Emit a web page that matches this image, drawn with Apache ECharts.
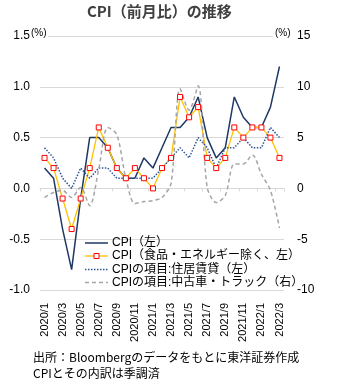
<!DOCTYPE html>
<html><head><meta charset="utf-8">
<script src="https://cdn.jsdelivr.net/npm/echarts@6/dist/echarts.min.js"></script>
<style>html,body{margin:0;padding:0;background:#fff}#c{width:357px;height:380px}</style>
</head><body><div id="c"></div>
<script>
const categories = ['2020/1','2020/2','2020/3','2020/4','2020/5','2020/6','2020/7','2020/8','2020/9','2020/10','2020/11','2020/12','2021/1','2021/2','2021/3','2021/4','2021/5','2021/6','2021/7','2021/8','2021/9','2021/10','2021/11','2021/12','2022/1','2022/2','2022/3'];
const cpi  = [0.2,0.1,-0.4,-0.8,-0.1,0.5,0.5,0.4,0.2,0.1,0.1,0.3,0.2,0.4,0.6,0.6,0.7,0.9,0.5,0.3,0.4,0.9,0.7,0.6,0.6,0.8,1.2];
const core = [0.3,0.2,-0.1,-0.4,-0.1,0.2,0.6,0.4,0.2,0.1,0.2,0.1,0.0,0.2,0.3,0.9,0.7,0.8,0.3,0.2,0.3,0.6,0.5,0.6,0.6,0.5,0.3];
const rent = [0.4,0.3,0.1,0.0,0.2,0.1,0.2,0.2,0.1,0.1,0.1,0.1,0.1,0.2,0.3,0.4,0.3,0.5,0.4,0.2,0.4,0.4,0.5,0.4,0.4,0.6,0.5];
const usedCars = [-0.9,-0.4,-0.2,-0.9,0.1,-1.7,1.9,6.0,5.3,1.0,-1.5,-1.3,-1.2,-0.9,0.5,9.8,7.7,10.1,0.1,-1.4,-0.7,2.4,2.4,3.3,1.4,-0.2,-3.9];
const seriesNames = ['CPI（左）','CPI（食品・エネルギー除く、左）','CPIの項目:住居賃貸（左）','CPIの項目:中古車・トラック（右）'];
const titleText = 'CPI（前月比）の推移';
const noteLines = ['出所：Bloombergのデータをもとに東洋証券作成','CPIとその内訳は季調済'];

const FONT = '"Liberation Sans", "Noto Sans CJK JP", sans-serif';
const styles = [
  {color:'#1f3864', dash:null, width:1.5},
  {color:'#ffc000', dash:null, width:1.3},
  {color:'#2f5597', dash:[1.5,1.5], width:1.5},
  {color:'#a6a6a6', dash:[4,3], width:1.5}
];

// custom legend (graphic)
const legendGraphics = [];
const rowY = [243, 256, 269.5, 282.5];
seriesNames.forEach((n,i)=>{
  legendGraphics.push({type:'line', shape:{x1:85,y1:rowY[i],x2:108,y2:rowY[i]},
    style:{stroke:styles[i].color, lineWidth:styles[i].width, lineDash:styles[i].dash}, z:20});
  if(i===1){
    legendGraphics.push({type:'rect', shape:{x:94,y:rowY[i]-2.5,width:5,height:5},
      style:{fill:'#fff',stroke:'#ff0000',lineWidth:1}, z:21});
  }
  legendGraphics.push({type:'text', x:112, y:rowY[i], z:20,
    style:{text:n, font:'12px "Liberation Sans", "Noto Sans CJK JP", sans-serif', fill:'#000', verticalAlign:'middle'}});
});

const chart = echarts.init(document.getElementById('c'), null, {renderer:'canvas'});
chart.setOption({
  animation:false,
  textStyle:{fontFamily:FONT},
  grid:{left:40,right:73,top:36,bottom:90,containLabel:false},
  xAxis:[{
    type:'category', data:categories, boundaryGap:true,
    axisLine:{show:false,onZero:false}, axisTick:{show:false},
    axisLabel:{rotate:90,interval:1,margin:13,fontSize:11,color:'#000',fontFamily:FONT},
    splitLine:{show:false}
  },{
    type:'category', data:categories, boundaryGap:true, position:'bottom',
    axisLine:{show:true,onZero:true,onZeroAxisIndex:0,lineStyle:{color:'#d9d9d9',width:1}},
    axisTick:{show:true,interval:1,length:3,inside:false,lineStyle:{color:'#d9d9d9'}},
    axisLabel:{show:false}
  }],
  yAxis:[{
    type:'value', min:-1, max:1.5, interval:0.5, position:'left',
    axisLine:{show:false}, axisTick:{show:false},
    axisLabel:{formatter:v=>v.toFixed(1),fontSize:12,color:'#000',margin:10},
    splitLine:{lineStyle:{color:'#d9d9d9',width:1}}
  },{
    type:'value', min:-10, max:15, interval:5, position:'right',
    axisLine:{show:false}, axisTick:{show:false},
    axisLabel:{fontSize:12,color:'#000',margin:13},
    splitLine:{show:false}
  }],
  series:[{
    name:seriesNames[0], type:'line', data:cpi, xAxisIndex:0, yAxisIndex:0,
    symbol:'none', lineStyle:{color:styles[0].color,width:styles[0].width}, itemStyle:{color:styles[0].color}
  },{
    name:seriesNames[1], type:'line', data:core, xAxisIndex:0, yAxisIndex:0,
    symbol:'rect', symbolSize:5, showAllSymbol:true,
    lineStyle:{color:styles[1].color,width:styles[1].width},
    itemStyle:{color:'#fff',borderColor:'#ff0000',borderWidth:1}
  },{
    name:seriesNames[2], type:'line', data:rent, xAxisIndex:0, yAxisIndex:0,
    symbol:'none', lineStyle:{color:styles[2].color,width:styles[2].width,type:styles[2].dash}, itemStyle:{color:styles[2].color}
  },{
    name:seriesNames[3], type:'line', data:usedCars, xAxisIndex:0, yAxisIndex:1,
    symbol:'none', smooth:0.3, lineStyle:{color:styles[3].color,width:styles[3].width,type:styles[3].dash}, itemStyle:{color:styles[3].color}
  }],
  graphic:[
    {type:'text', left:87, top:4, style:{text:titleText, font:'bold 15px "Noto Sans CJK JP", sans-serif', fill:'#404040'}},
    {type:'rect', left:40, top:30, shape:{width:8,height:10}, style:{fill:'#fff'}, z:10},
    {type:'rect', left:273, top:30, shape:{width:12,height:10}, style:{fill:'#fff'}, z:10},
    {type:'text', left:31, top:28, style:{text:'(%)', font:'10px "Liberation Sans", sans-serif', fill:'#000'}, z:11},
    {type:'text', left:275, top:28, style:{text:'(%)', font:'10px "Liberation Sans", sans-serif', fill:'#000'}, z:11},
    {type:'text', left:33, top:351, style:{text:noteLines[0], font:'12px "Noto Sans CJK JP", sans-serif', fill:'#000'}},
    {type:'text', left:33, top:367, style:{text:noteLines[1], font:'12px "Noto Sans CJK JP", sans-serif', fill:'#000'}}
  ].concat(legendGraphics)
});
</script></body></html>
